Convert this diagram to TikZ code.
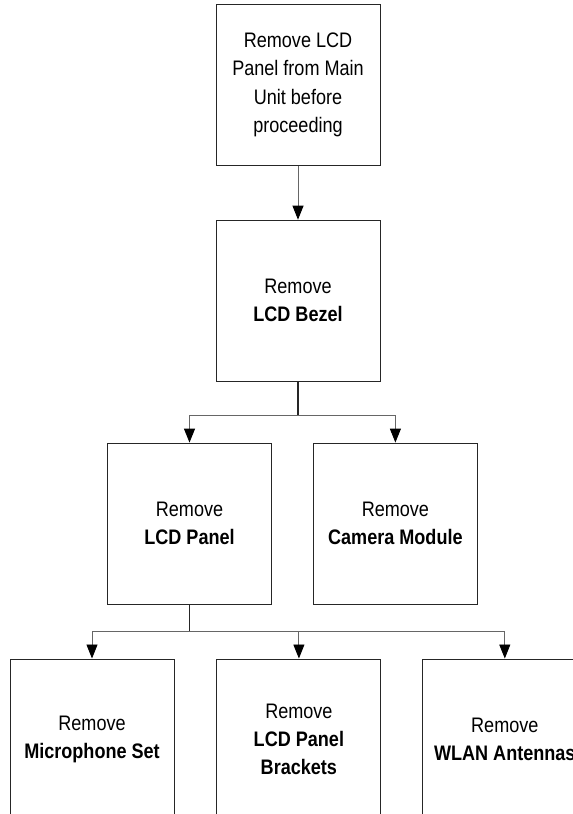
\documentclass[tikz,border=0pt]{standalone}
\usepackage{fontspec}
\setmainfont{Liberation Sans}[FakeStretch=0.86]
\usepackage{tikz}
\usetikzlibrary{arrows.meta, positioning}
\tikzset{
  proc/.style={rectangle, draw=black!85, line width=0.9pt,
               minimum width=164pt, minimum height=161pt,
               inner sep=0pt, align=center,
               font=\fontsize{21}{28.3}\selectfont},
  arr/.style={-{Triangle[length=14pt, width=11pt, color=black]},
              draw=black!60, line width=0.9pt},
  stem/.style={draw=black!85, line width=1.4pt},
}

\begin{document}
\begin{tikzpicture}[node distance=54pt]
  \useasboundingbox (0,0) rectangle (573pt,-814pt);
  \clip (0,0) rectangle (573pt,-814pt);
  \node[proc] (lcdout) at (298pt,-84.75pt)
    {Remove LCD\\Panel from Main\\Unit before\\proceeding};
  \node[proc, below=of lcdout] (bezel) {Remove\\\textbf{LCD Bezel}};
  \node[proc, below=61pt of bezel, xshift=-108.5pt] (panel) {Remove\\\textbf{LCD Panel}};
  \node[proc, right=41pt of panel] (camera) {Remove\\\textbf{Camera Module}};
  \node[proc, below=of panel, xshift=-97.5pt] (mic) {Remove\\\textbf{Microphone Set}};
  \node[proc, right=42pt of mic] (brackets) {Remove\\\textbf{LCD Panel}\\\textbf{Brackets}};
  \node[proc, right=41pt of brackets] (wlan) {Remove\\\textbf{WLAN Antennas}};
  \draw[arr] (lcdout) -- (bezel);
  \draw[stem] (bezel.south) -- ++(0,-34pt) coordinate (split1);
  \draw[arr] (split1) -| (panel);
  \draw[arr] (split1) -| (camera);
  \draw[stem] (panel.south) -- ++(0,-27pt) coordinate (split2);
  \draw[arr] (split2) -| (mic);
  \draw[arr] (split2) -| (brackets);
  \draw[arr] (split2) -| (wlan);
\end{tikzpicture}
\end{document}
